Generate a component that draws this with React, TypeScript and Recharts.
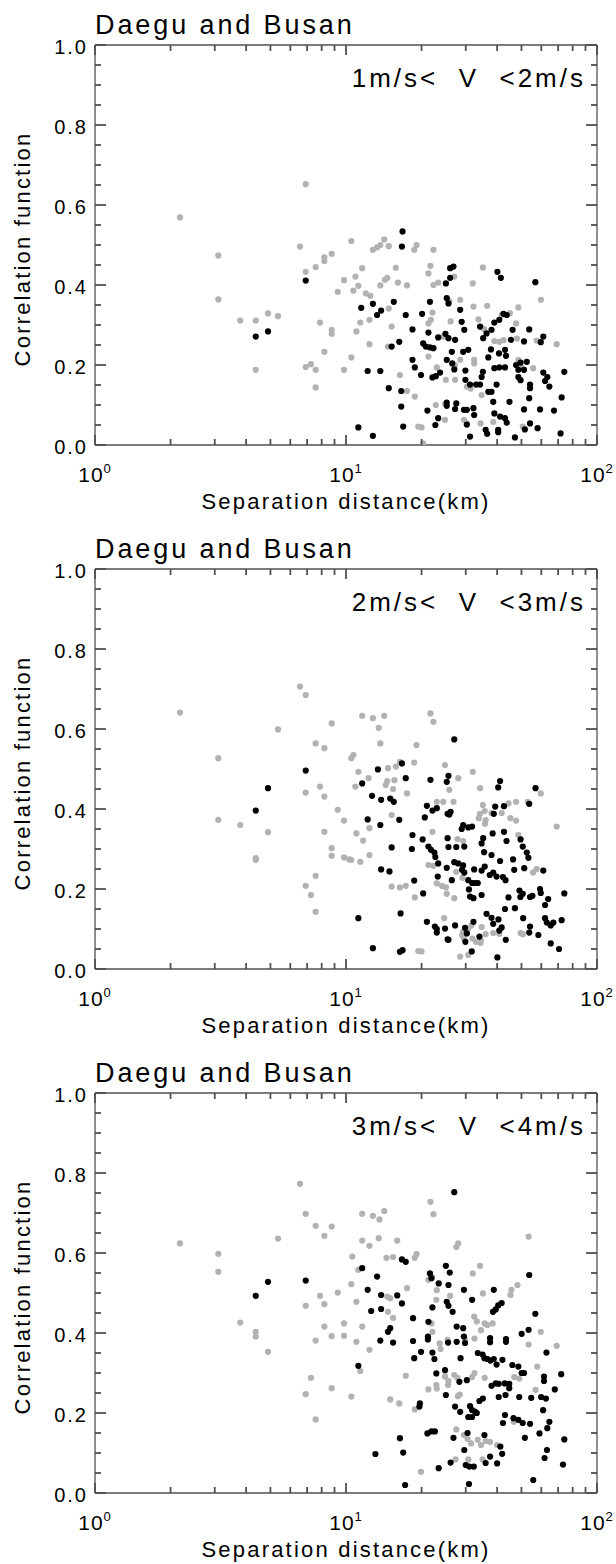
import React from 'react';
import { ScatterChart, Scatter, XAxis, YAxis } from 'recharts';

// ---------- axis ticks & labels ----------
const X_TICKS = [1, 2, 3, 4, 5, 6, 7, 8, 9, 10, 20, 30, 40, 50, 60, 70, 80, 90, 100];
const X_MAJOR_EXP: Record<number, string> = { 1: '0', 10: '1', 100: '2' };
const Y_TICKS = [0, 0.05, 0.1, 0.15, 0.2, 0.25, 0.3, 0.35, 0.4, 0.45, 0.5, 0.55, 0.6, 0.65, 0.7, 0.75, 0.8, 0.85, 0.9, 0.95, 1];
const Y_MAJOR_LABELS: Record<string, string> = { '0': '0.0', '0.2': '0.2', '0.4': '0.4', '0.6': '0.6', '0.8': '0.8', '1': '1.0' };

const PANEL_TITLES = ['Daegu and Busan', 'Daegu and Busan', 'Daegu and Busan'];
const SPEED_RANGES = ['1m/s<  V  <2m/s', '2m/s<  V  <3m/s', '3m/s<  V  <4m/s'];
const X_TITLE = 'Separation distance(km)';
const Y_TITLE = 'Correlation function';

// ---------- data: [separation distance (km), correlation] ----------
const gray1: [number, number][] = [
  [2.18, 0.569], [3.1, 0.474], [3.1, 0.364], [3.79, 0.311], [4.37, 0.311], [4.37, 0.188], [4.89, 0.329], [5.36, 0.322],
  [6.91, 0.652], [6.56, 0.496], [6.91, 0.433], [7.57, 0.445], [8.2, 0.469], [8.2, 0.46], [8.77, 0.478], [9.82, 0.412],
  [9.27, 0.383], [7.88, 0.306], [8.77, 0.288], [8.77, 0.278], [8.2, 0.233], [6.91, 0.195], [7.25, 0.202], [7.57, 0.188],
  [7.57, 0.144], [9.82, 0.188],
  [10.5, 0.51], [14.2, 0.514], [13.7, 0.5], [12.8, 0.488], [13.3, 0.494], [14.8, 0.497], [10.9, 0.421], [11.6, 0.442],
  [10.7, 0.386], [11.2, 0.398], [12.0, 0.379], [12.5, 0.373], [13.7, 0.399], [14.3, 0.413], [14.6, 0.418], [16.1, 0.406],
  [15.8, 0.443], [17.5, 0.399], [18.7, 0.488], [19.1, 0.5], [22.3, 0.488], [21.7, 0.448], [21.3, 0.429], [22.3, 0.4],
  [23.3, 0.406], [27.0, 0.421], [35.1, 0.444], [32.0, 0.404], [59.8, 0.363],
  [10.5, 0.219], [11.4, 0.306], [11.0, 0.284], [12.4, 0.313], [12.4, 0.252], [14.8, 0.341], [15.2, 0.296], [14.7, 0.246],
  [16.4, 0.175], [17.5, 0.135], [18.8, 0.121], [19.4, 0.046], [20.0, 0.044], [20.3, 0.004], [21.3, 0.304], [21.8, 0.313],
  [22.1, 0.331], [21.3, 0.221], [23.0, 0.194], [22.8, 0.1], [24.8, 0.103], [24.8, 0.063], [25.0, 0.163], [27.2, 0.163],
  [26.1, 0.309], [28.5, 0.213], [30.3, 0.146], [31.4, 0.141], [32.4, 0.213], [32.4, 0.204], [34.7, 0.125], [34.4, 0.054],
  [30.3, 0.054], [29.5, 0.063], [33.7, 0.314], [34.5, 0.295], [35.5, 0.29], [36.5, 0.348], [39.0, 0.26], [40.8, 0.258],
  [42.4, 0.262], [38.6, 0.058], [41.7, 0.325], [45.0, 0.33], [48.6, 0.344], [47.6, 0.304], [48.0, 0.266], [48.6, 0.213],
  [50.0, 0.195], [55.7, 0.192], [50.6, 0.046], [57.5, 0.261], [69.1, 0.252], [25.8, 0.36], [28.5, 0.363], [24.4, 0.271],
  [27.2, 0.2], [32.2, 0.346],
];
const black1: [number, number][] = [
  [4.37, 0.271], [4.89, 0.284], [6.91, 0.411],
  [16.8, 0.534], [16.7, 0.496], [26.8, 0.446], [26.0, 0.442], [26.0, 0.418], [25.0, 0.404], [40.1, 0.433], [41.4, 0.418],
  [56.8, 0.407], [11.5, 0.343], [12.8, 0.353], [13.8, 0.336], [13.3, 0.325], [15.5, 0.358], [17.3, 0.325], [20.1, 0.328],
  [21.6, 0.358], [25.2, 0.367], [25.6, 0.354], [28.5, 0.338], [28.9, 0.308], [29.6, 0.288], [18.4, 0.289], [21.3, 0.281],
  [23.3, 0.269], [24.9, 0.278], [25.6, 0.267], [27.2, 0.263], [34.2, 0.296], [35.2, 0.267], [36.3, 0.279], [38.0, 0.288],
  [39.0, 0.306], [40.8, 0.313], [42.4, 0.328], [43.7, 0.325], [46.1, 0.288], [45.4, 0.263], [53.7, 0.289], [51.2, 0.259],
  [61.1, 0.271], [59.7, 0.257], [15.2, 0.246], [16.3, 0.258], [20.3, 0.254], [20.8, 0.246], [21.6, 0.244], [22.3, 0.242],
  [26.4, 0.233], [29.3, 0.233], [30.7, 0.238], [25.2, 0.213], [26.5, 0.204], [37.8, 0.239], [40.7, 0.229], [43.0, 0.238],
  [43.4, 0.223], [36.9, 0.219], [39.0, 0.192], [40.8, 0.194], [43.0, 0.194], [47.6, 0.2], [49.6, 0.206], [52.5, 0.208],
  [48.6, 0.188], [51.2, 0.188], [18.4, 0.213], [18.8, 0.194], [19.9, 0.175], [22.1, 0.169], [22.8, 0.172], [23.7, 0.181],
  [27.0, 0.189], [29.9, 0.186], [29.9, 0.163], [31.2, 0.151], [33.0, 0.151], [34.2, 0.151], [35.1, 0.183], [34.7, 0.17],
  [36.9, 0.133], [38.0, 0.133], [39.8, 0.151], [48.6, 0.17], [49.6, 0.162], [54.1, 0.151], [54.1, 0.142], [61.1, 0.181],
  [63.4, 0.17], [62.1, 0.16], [64.6, 0.146], [74.1, 0.183], [53.7, 0.117], [72.3, 0.119], [59.3, 0.089], [67.4, 0.086],
  [51.2, 0.089], [44.8, 0.108], [38.6, 0.108], [39.0, 0.079], [41.1, 0.071], [43.0, 0.067], [43.7, 0.056], [40.4, 0.038],
  [40.4, 0.032], [36.0, 0.038], [36.5, 0.028], [31.2, 0.021], [30.3, 0.051], [32.2, 0.092], [32.4, 0.075], [29.5, 0.088],
  [30.3, 0.088], [27.5, 0.104], [27.2, 0.09], [25.2, 0.106], [25.2, 0.098], [23.3, 0.067], [22.7, 0.05], [21.1, 0.086],
  [16.6, 0.135], [14.8, 0.142], [16.6, 0.096], [16.9, 0.046], [12.2, 0.185], [13.7, 0.185], [11.2, 0.044], [12.8, 0.023],
  [47.1, 0.019], [51.6, 0.039], [54.1, 0.054], [58.0, 0.042], [71.6, 0.029],
];

const gray2: [number, number][] = [
  [2.18, 0.641], [3.1, 0.527], [3.1, 0.373], [3.79, 0.36], [4.37, 0.277], [4.37, 0.273], [4.89, 0.342], [5.36, 0.599],
  [6.56, 0.706], [6.91, 0.685], [8.77, 0.614], [7.57, 0.564], [8.2, 0.552], [6.91, 0.441], [7.88, 0.456], [8.2, 0.431],
  [9.27, 0.398], [9.82, 0.371], [8.2, 0.343], [8.77, 0.302], [8.77, 0.283], [9.82, 0.279], [10.3, 0.274], [7.57, 0.233],
  [6.91, 0.208], [7.25, 0.185], [7.57, 0.143],
  [11.6, 0.633], [12.8, 0.627], [14.2, 0.633], [13.5, 0.603], [13.7, 0.564], [21.7, 0.639], [22.3, 0.618], [19.1, 0.56],
  [10.5, 0.527], [10.7, 0.535], [10.5, 0.273], [11.4, 0.268], [12.4, 0.285], [11.0, 0.339], [11.7, 0.321], [12.4, 0.352],
  [11.2, 0.493], [10.9, 0.456], [12.3, 0.477], [14.7, 0.502], [15.8, 0.506], [14.6, 0.47], [15.6, 0.472], [14.4, 0.46],
  [15.4, 0.45], [16.4, 0.518], [18.7, 0.516], [17.5, 0.439], [15.2, 0.385], [15.2, 0.206], [16.4, 0.204], [17.3, 0.208],
  [18.8, 0.179], [21.3, 0.26], [22.3, 0.258], [23.0, 0.214], [24.1, 0.208], [25.0, 0.204], [25.2, 0.188], [27.0, 0.177],
  [24.6, 0.127], [22.1, 0.343], [24.8, 0.51], [25.8, 0.448], [26.8, 0.418], [28.0, 0.477], [23.0, 0.418], [24.4, 0.418],
  [32.0, 0.493], [34.2, 0.452], [35.1, 0.41], [35.7, 0.395], [34.2, 0.388], [33.8, 0.377], [36.0, 0.372], [38.0, 0.39],
  [35.8, 0.363], [29.3, 0.32], [27.8, 0.325], [44.4, 0.414], [47.6, 0.418], [41.7, 0.39], [45.2, 0.377], [47.6, 0.371],
  [53.0, 0.418], [59.7, 0.439], [69.1, 0.356], [48.6, 0.335], [55.6, 0.241], [57.5, 0.25], [27.5, 0.243], [29.1, 0.228],
  [29.3, 0.093], [30.7, 0.101], [31.6, 0.109], [34.7, 0.105], [34.4, 0.073], [34.4, 0.065], [38.6, 0.09], [40.8, 0.088],
  [49.6, 0.09], [19.4, 0.045], [20.0, 0.044], [28.5, 0.031], [30.7, 0.035], [29.0, 0.085], [29.5, 0.076], [31.9, 0.076],
  [33.0, 0.068], [36.0, 0.087], [50.6, 0.087],
];
const black2: [number, number][] = [
  [4.37, 0.396], [4.89, 0.452], [6.91, 0.496],
  [27.0, 0.574], [16.7, 0.514], [13.4, 0.499], [17.3, 0.477], [11.6, 0.464], [21.7, 0.473], [25.6, 0.483], [25.2, 0.468],
  [41.1, 0.47], [40.4, 0.454], [56.9, 0.452], [12.7, 0.433], [13.8, 0.423], [15.5, 0.418], [15.0, 0.426], [53.7, 0.413],
  [21.0, 0.408], [22.1, 0.396], [23.0, 0.402], [25.4, 0.388], [26.1, 0.393], [25.8, 0.386], [20.6, 0.379], [39.3, 0.406],
  [42.6, 0.407], [38.8, 0.388], [12.2, 0.374], [13.7, 0.36], [16.3, 0.373], [29.3, 0.36], [30.7, 0.354], [28.9, 0.35],
  [31.8, 0.356], [38.4, 0.339], [42.6, 0.343], [18.4, 0.335], [20.2, 0.324], [25.4, 0.327], [21.3, 0.306], [21.8, 0.298],
  [25.6, 0.305], [27.5, 0.305], [29.6, 0.306], [35.2, 0.327], [34.7, 0.314], [43.6, 0.32], [49.6, 0.324], [50.6, 0.306],
  [15.2, 0.304], [18.3, 0.3], [52.5, 0.291], [53.3, 0.278], [22.5, 0.291], [22.7, 0.28], [38.0, 0.285], [41.1, 0.27],
  [46.3, 0.274], [35.5, 0.292], [23.3, 0.264], [25.2, 0.253], [27.0, 0.267], [28.0, 0.264], [29.3, 0.259], [29.0, 0.248],
  [29.6, 0.241], [32.4, 0.249], [34.7, 0.246], [35.7, 0.256], [37.4, 0.235], [38.6, 0.241], [39.8, 0.231], [43.2, 0.222],
  [42.2, 0.23], [46.8, 0.248], [51.3, 0.252], [61.1, 0.246], [13.8, 0.249], [14.9, 0.244], [18.7, 0.221], [23.2, 0.231],
  [26.4, 0.222], [30.7, 0.222], [31.8, 0.215], [32.6, 0.215], [33.5, 0.215], [30.9, 0.199], [31.2, 0.181], [32.2, 0.177],
  [34.7, 0.185], [20.3, 0.189], [44.4, 0.179], [43.0, 0.15], [47.1, 0.152], [49.1, 0.196], [50.6, 0.188], [49.5, 0.18],
  [54.1, 0.18], [55.3, 0.183], [59.3, 0.2], [59.7, 0.19], [63.9, 0.175], [62.1, 0.16], [74.1, 0.189], [11.2, 0.127],
  [16.5, 0.139], [21.0, 0.118], [22.6, 0.106], [23.0, 0.091], [24.8, 0.101], [25.6, 0.073], [27.2, 0.109], [29.8, 0.103],
  [32.2, 0.118], [36.3, 0.138], [38.0, 0.128], [38.6, 0.113], [40.5, 0.124], [41.7, 0.104], [40.8, 0.096], [50.8, 0.127],
  [54.1, 0.106], [58.4, 0.085], [62.1, 0.127], [63.1, 0.116], [65.4, 0.109], [67.0, 0.116], [72.3, 0.122], [65.4, 0.064],
  [70.6, 0.05], [12.8, 0.052], [16.4, 0.043], [16.8, 0.047], [31.7, 0.044], [40.1, 0.029], [29.9, 0.068], [30.3, 0.089],
  [25.4, 0.074], [23.0, 0.1], [34.0, 0.081], [43.3, 0.073], [53.7, 0.091],
];

const gray3: [number, number][] = [
  [2.18, 0.624], [3.1, 0.598], [3.1, 0.553], [3.79, 0.426], [4.37, 0.403], [4.37, 0.391], [4.89, 0.353], [5.36, 0.636],
  [6.56, 0.773], [6.91, 0.698], [7.57, 0.668], [8.2, 0.643], [8.77, 0.666], [6.91, 0.468], [7.88, 0.493], [8.2, 0.472],
  [9.27, 0.501], [9.82, 0.424], [9.82, 0.393], [8.2, 0.416], [8.77, 0.392], [7.57, 0.381], [7.25, 0.288], [6.91, 0.247],
  [8.77, 0.262], [7.57, 0.184],
  [11.6, 0.698], [12.8, 0.693], [13.6, 0.684], [14.2, 0.705], [21.7, 0.728], [22.3, 0.697], [11.6, 0.631], [12.4, 0.618],
  [13.5, 0.637], [16.0, 0.631], [28.0, 0.624], [27.5, 0.615], [53.4, 0.641], [10.6, 0.591], [14.5, 0.588], [15.4, 0.59],
  [18.8, 0.588], [19.1, 0.597], [34.2, 0.568], [32.0, 0.549], [11.2, 0.558], [10.5, 0.522], [11.0, 0.478], [14.6, 0.491],
  [15.0, 0.487], [17.5, 0.512], [21.3, 0.533], [22.0, 0.54], [22.9, 0.483], [23.0, 0.507], [26.0, 0.493], [35.1, 0.499],
  [45.2, 0.495], [45.6, 0.508], [48.2, 0.52], [59.7, 0.403], [69.1, 0.368], [11.6, 0.416], [11.0, 0.378], [12.4, 0.358],
  [15.4, 0.438], [14.7, 0.453], [22.1, 0.403], [21.9, 0.424], [23.8, 0.36], [23.6, 0.374], [25.4, 0.383], [32.4, 0.441],
  [33.2, 0.429], [35.7, 0.424], [36.6, 0.42], [38.4, 0.424], [29.8, 0.383], [32.5, 0.386], [34.5, 0.407], [53.4, 0.371],
  [57.8, 0.316], [10.5, 0.241], [11.4, 0.305], [15.0, 0.234], [16.3, 0.224], [18.8, 0.209], [17.3, 0.293], [21.3, 0.259],
  [22.9, 0.27], [23.0, 0.261], [24.8, 0.291], [27.0, 0.295], [27.8, 0.288], [27.9, 0.242], [28.4, 0.246], [25.5, 0.27],
  [25.6, 0.28], [35.7, 0.288], [32.5, 0.3], [31.8, 0.29], [46.8, 0.29], [49.0, 0.286], [56.9, 0.258],
  [27.5, 0.159], [29.5, 0.145], [30.5, 0.135], [31.5, 0.124], [33.5, 0.133], [34.5, 0.12], [36.0, 0.13], [37.5, 0.128],
  [40.0, 0.12], [46.6, 0.178], [19.9, 0.053], [27.3, 0.084], [30.7, 0.084], [35.0, 0.084],
];
const black3: [number, number][] = [
  [4.37, 0.493], [4.89, 0.528], [6.91, 0.531],
  [27.0, 0.752], [16.7, 0.584], [17.3, 0.578], [11.6, 0.562], [25.0, 0.568], [25.9, 0.551], [53.7, 0.545], [21.6, 0.549],
  [21.9, 0.537], [13.3, 0.541], [23.4, 0.524], [25.6, 0.52], [12.2, 0.508], [13.8, 0.495], [16.0, 0.494], [16.7, 0.474],
  [29.5, 0.508], [38.8, 0.508], [31.8, 0.483], [25.2, 0.478], [25.6, 0.468], [26.6, 0.453], [22.1, 0.464], [12.6, 0.455],
  [13.8, 0.46], [39.5, 0.459], [40.4, 0.469], [41.7, 0.475], [38.5, 0.453], [56.8, 0.448], [18.5, 0.437], [21.3, 0.428],
  [15.0, 0.412], [14.7, 0.403], [27.6, 0.416], [29.3, 0.412], [53.4, 0.408], [50.1, 0.398], [13.7, 0.381], [15.4, 0.376],
  [18.5, 0.38], [21.2, 0.391], [21.2, 0.384], [25.5, 0.376], [27.6, 0.378], [29.5, 0.391], [29.8, 0.375], [37.5, 0.387],
  [37.5, 0.377], [43.4, 0.385], [43.4, 0.378], [62.9, 0.351], [18.7, 0.337], [19.9, 0.353], [22.1, 0.351], [22.5, 0.335],
  [28.6, 0.337], [33.5, 0.35], [35.0, 0.346], [35.6, 0.337], [36.6, 0.335], [37.6, 0.331], [38.8, 0.335], [39.8, 0.321],
  [42.0, 0.333], [46.0, 0.32], [48.6, 0.316], [50.1, 0.3], [51.2, 0.3], [11.2, 0.318], [22.9, 0.299], [24.8, 0.307],
  [61.5, 0.291], [61.5, 0.28], [72.0, 0.297], [67.9, 0.259], [25.0, 0.245], [28.3, 0.278], [30.3, 0.282], [38.0, 0.268],
  [39.5, 0.274], [40.6, 0.273], [42.9, 0.274], [44.7, 0.273], [44.7, 0.262], [40.6, 0.24], [43.2, 0.245], [35.1, 0.236],
  [34.0, 0.23], [49.0, 0.24], [54.7, 0.238], [59.9, 0.24], [62.6, 0.236], [19.7, 0.224], [19.6, 0.216], [27.2, 0.216],
  [28.5, 0.203], [31.2, 0.217], [31.8, 0.2075], [32.6, 0.2035], [30.7, 0.19], [31.8, 0.19], [33.2, 0.2], [61.0, 0.207],
  [43.0, 0.195], [42.2, 0.175], [46.5, 0.187], [48.6, 0.183], [50.6, 0.175], [54.1, 0.173], [64.6, 0.178], [63.4, 0.162],
  [59.0, 0.149], [51.6, 0.138], [74.1, 0.134], [16.4, 0.137], [21.1, 0.149], [21.9, 0.154], [22.6, 0.154], [26.8, 0.138],
  [35.6, 0.145], [30.5, 0.15], [41.2, 0.116], [63.2, 0.1075], [29.6, 0.1075],
  [16.9, 0.101], [13.1, 0.0975], [17.2, 0.02], [23.4, 0.062], [26.1, 0.076], [30.0, 0.07], [31.0, 0.066], [32.3, 0.066],
  [30.9, 0.0225], [37.5, 0.091], [36.0, 0.075], [41.9, 0.098], [40.0, 0.074], [55.7, 0.0325], [61.8, 0.0875], [73.2, 0.071],
];

const GRAY_SETS = [gray1, gray2, gray3];
const BLACK_SETS = [black1, black2, black3];

// ---------- layout & style ----------
const W = 616;
const PANEL_H = [524, 524, 516];
const PL = 95;
const PR = 597;
const PT = 45;
const PB = 445;
const AXIS = '#505050';
const SW = 1.3;
const TW = 1.8;
const GRAY = '#b2b2b2';
const FONT = "'Liberation Sans', Arial, sans-serif";

const toPts = (arr: [number, number][]) => arr.map(([x, y]) => ({ x, y }));

const dot = (color: string) => (p: any) =>
  p.cx == null || p.cy == null ? <g /> : <circle cx={p.cx} cy={p.cy} r={3.1} fill={color} />;

const isMajorX = (v: number) => v === 1 || v === 10 || v === 100;
const yKey = (v: number) => String(Math.round(v * 100) / 100);

// bottom axis tick: inward tick at the bottom, its mirror at the top,
// the right frame edge at the last tick, and the 10^n label at decades
const XTick = (props: any) => {
  const { x, payload } = props;
  const v = payload.value;
  const major = isMajorX(v);
  const len = major ? 10 : 6;
  return (
    <g>
      <line x1={x} x2={x} y1={PB} y2={PB - len} stroke={AXIS} strokeWidth={TW} />
      <line x1={x} x2={x} y1={PT} y2={PT + len} stroke={AXIS} strokeWidth={TW} />
      {v === 100 && <line x1={x} x2={x} y1={PT} y2={PB} stroke={AXIS} strokeWidth={SW} />}
      {major && (
        <text x={x} y={PB + 37} textAnchor="middle" fontFamily={FONT} fontSize={21} fill="#000" letterSpacing={1}>
          10<tspan dy={-9} fontSize={13}>{X_MAJOR_EXP[v]}</tspan>
        </text>
      )}
    </g>
  );
};

// left axis tick: inward tick on the left, its mirror on the right,
// the top frame edge at 1.0, and the label at every 0.2
const YTick = (props: any) => {
  const { y, payload } = props;
  const v = payload.value;
  const label = Y_MAJOR_LABELS[yKey(v)];
  const major = label !== undefined;
  const len = major ? 11 : 6;
  return (
    <g>
      <line x1={PL} x2={PL + len} y1={y} y2={y} stroke={AXIS} strokeWidth={TW} />
      <line x1={PR} x2={PR - len} y1={y} y2={y} stroke={AXIS} strokeWidth={TW} />
      {v === 1 && <line x1={PL} x2={PR} y1={y} y2={y} stroke={AXIS} strokeWidth={SW} />}
      {major && (
        <text x={88} y={y + 9} textAnchor="end" fontFamily={FONT} fontSize={20} fill="#000" letterSpacing={2}>
          {label}
        </text>
      )}
    </g>
  );
};

const Panel = ({ idx }: { idx: number }) => {
  const H = PANEL_H[idx];
  const midY = (PT + PB) / 2 + 4;
  return (
    <ScatterChart
      width={W}
      height={H}
      margin={{ top: PT, right: W - PR, bottom: H - PB - 30, left: PL - 60 }}
      style={{ display: 'block' }}
    >
      <XAxis
        xAxisId="b"
        dataKey="x"
        type="number"
        scale="log"
        domain={[1, 100]}
        allowDataOverflow
        ticks={X_TICKS}
        interval={0}
        height={30}
        tickLine={false}
        tickSize={0}
        tickMargin={0}
        axisLine={{ stroke: AXIS, strokeWidth: SW }}
        tick={XTick}
      />
      <YAxis
        yAxisId="l"
        dataKey="y"
        type="number"
        domain={[0, 1]}
        allowDataOverflow
        ticks={Y_TICKS}
        interval={0}
        width={60}
        tickLine={false}
        tickSize={0}
        tickMargin={0}
        axisLine={{ stroke: AXIS, strokeWidth: SW }}
        tick={YTick}
      />
      <Scatter
        xAxisId="b"
        yAxisId="l"
        data={toPts(GRAY_SETS[idx])}
        fill={GRAY}
        shape={dot(GRAY)}
        isAnimationActive={false}
      />
      <Scatter
        xAxisId="b"
        yAxisId="l"
        data={toPts(BLACK_SETS[idx])}
        fill="#000"
        shape={dot('#000')}
        isAnimationActive={false}
      />
      <text x={PL} y={34} fontFamily={FONT} fontSize={27} fill="#000" letterSpacing={2.9}>
        {PANEL_TITLES[idx]}
      </text>
      <text
        x={586}
        y={PT + 42}
        textAnchor="end"
        fontFamily={FONT}
        fontSize={26}
        fill="#000"
        letterSpacing={3}
        style={{ whiteSpace: 'pre' }}
      >
        {SPEED_RANGES[idx]}
      </text>
      <text x={(PL + PR) / 2} y={PB + 64} textAnchor="middle" fontFamily={FONT} fontSize={22} fill="#000" letterSpacing={2.2}>
        {X_TITLE}
      </text>
      <text
        x={30}
        y={midY}
        transform={`rotate(-90 30 ${midY})`}
        textAnchor="middle"
        fontFamily={FONT}
        fontSize={22}
        fill="#000"
        letterSpacing={2.2}
      >
        {Y_TITLE}
      </text>
    </ScatterChart>
  );
};

export default function App() {
  return (
    <div style={{ position: 'absolute', left: 0, top: 0, width: W, height: 1564, background: '#fff', overflow: 'hidden' }}>
      <Panel idx={0} />
      <Panel idx={1} />
      <Panel idx={2} />
    </div>
  );
}
